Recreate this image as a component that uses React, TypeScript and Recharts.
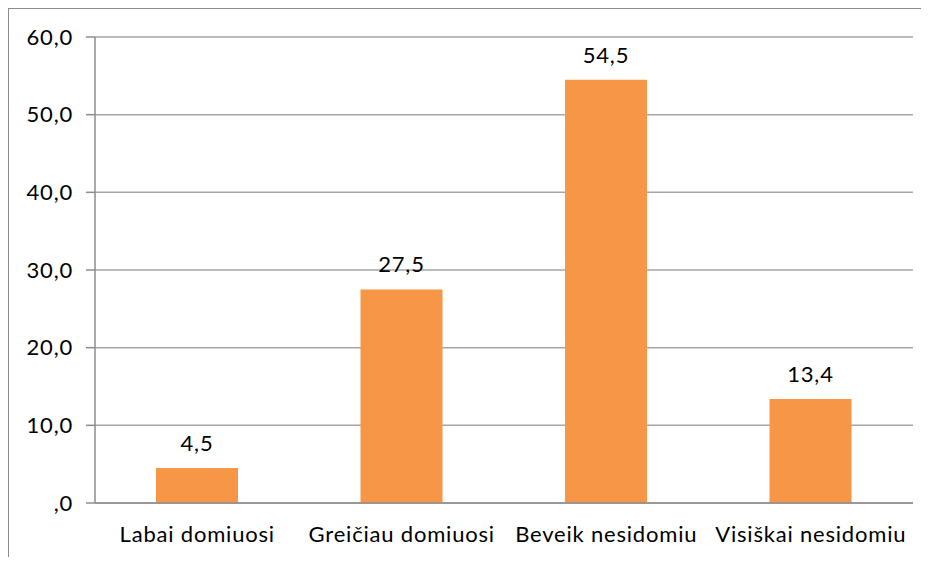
import { BarChart, Bar, XAxis, YAxis, CartesianGrid, LabelList } from "recharts";

const categories = ["Labai domiuosi", "Greičiau domiuosi", "Beveik nesidomiu", "Visiškai nesidomiu"];
const values = [4.5, 27.5, 54.5, 13.4];
const yTicks = [0, 10, 20, 30, 40, 50, 60];
const boundaryTicks = [0, 1, 2, 3, 4];

const data = categories.map((name, i) => ({ name, value: values[i] }));

const fmt = (v: number) => (v === 0 ? ",0" : v.toFixed(1).replace(".", ","));
const FONT = "Lato, 'Noto Sans', sans-serif";
const textStyle = { fill: "#000", fontSize: 22, fontFamily: FONT, letterSpacing: 0.8 };

export default function App() {
  return (
    <div
      style={{
        width: 920,
        height: 548,
        borderTop: "1px solid #8c8c8c",
        borderLeft: "1px solid #8c8c8c",
        fontFamily: FONT,
      }}
    >
      <BarChart
        width={920}
        height={548}
        data={data}
        margin={{ top: 28, right: 16, bottom: 24, left: 0 }}
      >
        <CartesianGrid vertical={false} stroke="#a6a6a6" strokeWidth={1.5} />
        <XAxis
          xAxisId="ticks"
          type="number"
          domain={[0, 4]}
          ticks={boundaryTicks}
          height={0}
          axisLine={false}
          tickSize={8}
          tickLine={{ stroke: "#8c8c8c", strokeWidth: 1.5 }}
          tickFormatter={() => ""}
        />
        <XAxis
          xAxisId="cat"
          dataKey="name"
          height={30}
          tickLine={false}
          tickSize={0}
          tickMargin={23}
          axisLine={{ stroke: "#8c8c8c", strokeWidth: 1.5 }}
          tick={textStyle}
        />
        <YAxis
          domain={[0, 60]}
          ticks={yTicks}
          width={86}
          tickSize={9}
          tickMargin={13}
          tickFormatter={fmt}
          axisLine={{ stroke: "#8c8c8c", strokeWidth: 1.5 }}
          tickLine={{ stroke: "#8c8c8c", strokeWidth: 1.5 }}
          tick={textStyle}
        />
        <Bar xAxisId="cat" dataKey="value" fill="#f79646" barSize={82} isAnimationActive={false}>
          <LabelList
            dataKey="value"
            position="top"
            offset={17}
            formatter={(v: any) => fmt(Number(v))}
            style={textStyle}
          />
        </Bar>
      </BarChart>
    </div>
  );
}
